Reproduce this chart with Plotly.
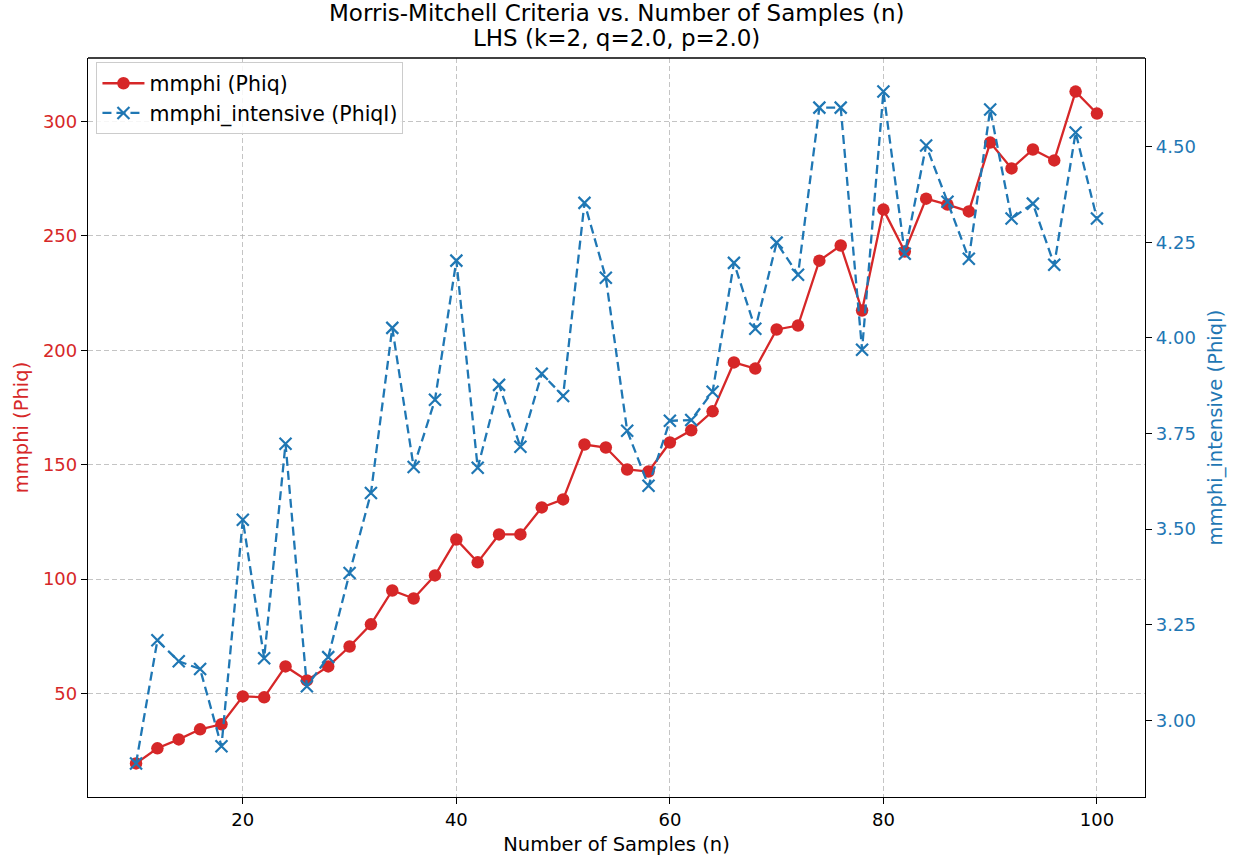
import plotly.graph_objects as go

# Sample counts and Morris-Mitchell criteria for LHS designs
n_samples = list(range(10, 101, 2))

mmphi = [19.4, 26.0, 29.9, 34.3, 36.5, 48.7, 48.3, 61.8, 55.7, 61.8,
         70.5, 80.2, 95.0, 91.5, 101.6, 117.3, 107.3, 119.5, 119.5, 131.3,
         134.8, 158.8, 157.5, 147.9, 147.0, 159.7, 165.0, 173.3, 194.7, 192.0,
         209.1, 210.8, 239.2, 245.8, 217.4, 261.5, 243.2, 266.3, 263.7, 260.7,
         290.8, 279.5, 287.8, 283.0, 313.1, 303.5]

mmphi_intensive = [2.887, 3.209, 3.154, 3.134, 2.932, 3.524, 3.162, 3.723, 3.089, 3.165,
                   3.385, 3.594, 4.026, 3.662, 3.838, 4.202, 3.660, 3.877, 3.715, 3.906,
                   3.848, 4.353, 4.157, 3.757, 3.613, 3.783, 3.785, 3.859, 4.196, 4.024,
                   4.249, 4.165, 4.602, 4.602, 3.969, 4.644, 4.220, 4.503, 4.356, 4.207,
                   4.597, 4.312, 4.351, 4.191, 4.537, 4.312]

left_ticks = [50, 100, 150, 200, 250, 300]
right_ticks = [3.00, 3.25, 3.50, 3.75, 4.00, 4.25, 4.50]
x_ticks = [20, 40, 60, 80, 100]

title_lines = ["Morris-Mitchell Criteria vs. Number of Samples (n)",
               "LHS (k=2, q=2.0, p=2.0)"]

RED = "#d62728"
BLUE = "#1f77b4"
FONT = "DejaVu Sans"
TICK_SIZE = 18
LABEL_SIZE = 19.5


def padded(vals, frac=0.05):
    lo, hi = min(vals), max(vals)
    pad = (hi - lo) * frac
    return [lo - pad, hi + pad]


fig = go.Figure()

fig.add_trace(go.Scatter(
    x=n_samples, y=mmphi, name="mmphi (Phiq)",
    mode="lines+markers",
    line=dict(color=RED, width=2.3),
    marker=dict(symbol="circle", size=12.5, color=RED),
    yaxis="y",
))

fig.add_trace(go.Scatter(
    x=n_samples, y=mmphi_intensive, name="mmphi_intensive (PhiqI)",
    mode="lines+markers",
    line=dict(color=BLUE, width=2.3, dash="9px,5px"),
    marker=dict(symbol="x-thin", size=12, color=BLUE,
                line=dict(color=BLUE, width=2.2)),
    yaxis="y2",
))

axis_common = dict(
    showline=True, linecolor="black", linewidth=1.3, mirror=False,
    ticks="outside", ticklen=6, tickwidth=1.3, tickcolor="black",
    zeroline=False,
)
grid_style = dict(showgrid=True, gridcolor="rgba(176,176,176,0.75)",
                  griddash="5px,3px", gridwidth=1)

fig.update_layout(
    width=1245, height=863,
    margin=dict(l=88, r=100, t=58, b=66),
    paper_bgcolor="white", plot_bgcolor="white",
    font=dict(family=FONT, size=TICK_SIZE, color="black"),
    xaxis=dict(
        **axis_common, **grid_style,
        range=padded(n_samples),
        tickvals=x_ticks,
        title=dict(text="Number of Samples (n)", font=dict(size=LABEL_SIZE), standoff=8),
        tickfont=dict(size=TICK_SIZE),
    ),
    yaxis=dict(
        **axis_common, **grid_style,
        range=padded(mmphi),
        tickvals=left_ticks,
        tickfont=dict(size=TICK_SIZE, color=RED),
        title=dict(text="mmphi (Phiq)", font=dict(size=LABEL_SIZE, color=RED), standoff=9),
    ),
    yaxis2=dict(
        **axis_common,
        overlaying="y", side="right",
        range=padded(mmphi_intensive),
        tickvals=right_ticks,
        tickformat=".2f",
        tickfont=dict(size=TICK_SIZE, color=BLUE),
        title=dict(text="mmphi_intensive (PhiqI)", font=dict(size=LABEL_SIZE, color=BLUE), standoff=13),
        showgrid=False,
    ),
    legend=dict(
        x=0.008, y=0.994, xanchor="left", yanchor="top",
        bgcolor="rgba(255,255,255,0.85)", bordercolor="#cccccc", borderwidth=1,
        font=dict(family=FONT, size=20.5),
        itemwidth=42, tracegroupgap=0,
    ),
    showlegend=True,
)

# two-line title above the axes box
for line, ypix in zip(title_lines, [13, 38]):
    fig.add_annotation(
        text=line, xref="paper", yref="paper",
        x=0.5, y=1 + (58 - ypix) / 739, xanchor="center", yanchor="middle",
        showarrow=False, font=dict(family=FONT, size=23, color="black"),
    )

# top border of the axes box
fig.add_shape(type="line", xref="paper", yref="paper", x0=0, x1=1, y0=1, y1=1,
              line=dict(color="black", width=1.3))

fig.write_html("out.html")
